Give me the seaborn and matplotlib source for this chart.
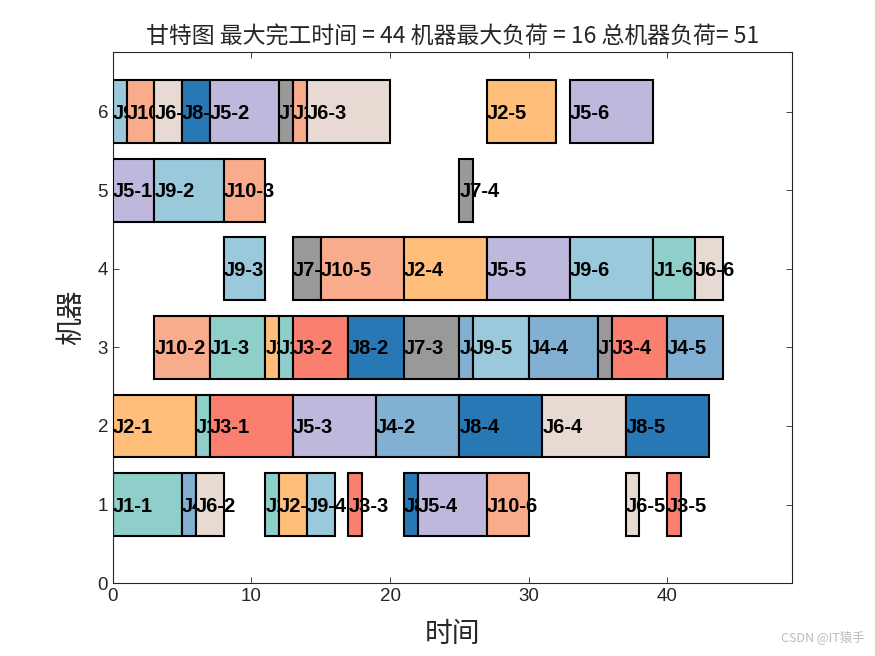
import matplotlib
matplotlib.use("Agg")
import matplotlib.pyplot as plt
import seaborn as sns
import pandas as pd

# ---- data ----
labels = ["J1-1","J4-1","J6-2","J1-4","J2-3","J9-4","J3-3","J8-3","J5-4","J10-6","J6-5","J3-5",
          "J2-1","J1-2","J3-1","J5-3","J4-2","J8-4","J6-4","J8-5",
          "J10-2","J1-3","J2-2","J1-5","J3-2","J8-2","J7-3","J4-3","J9-5","J4-4","J7-5","J3-4","J4-5",
          "J9-3","J7-2","J10-5","J2-4","J5-5","J9-6","J1-6","J6-6",
          "J5-1","J9-2","J10-3","J7-4",
          "J9-1","J10-1","J6-1","J8-1","J5-2","J7-1","J10-4","J6-3","J2-5","J5-6"]
machines = [1,1,1,1,1,1,1,1,1,1,1,1,
            2,2,2,2,2,2,2,2,
            3,3,3,3,3,3,3,3,3,3,3,3,3,
            4,4,4,4,4,4,4,4,
            5,5,5,5,
            6,6,6,6,6,6,6,6,6,6]
starts = [0,5,6,11,12,14,17,21,22,27,37,40,
          0,6,7,13,19,25,31,37,
          3,7,11,12,13,17,21,25,26,30,35,36,40,
          8,13,15,21,27,33,39,42,
          0,3,8,25,
          0,1,3,5,7,12,13,14,27,33]
ends = [5,6,8,12,14,16,18,22,27,30,38,41,
        6,7,13,19,25,31,37,43,
        7,11,12,13,17,21,25,26,30,35,36,40,44,
        11,15,21,27,33,39,42,44,
        3,8,11,26,
        1,3,5,7,12,13,14,20,32,39]
job_colors = {1:"#8ECFC9", 2:"#FFBE7A", 3:"#FA7F6F", 4:"#82B0D2", 5:"#BEB8DC",
              6:"#E7DAD2", 7:"#999999", 8:"#2878B5", 9:"#9AC9DB", 10:"#F8AC8C"}
title = "甘特图 最大完工时间 = 44 机器最大负荷 = 16 总机器负荷= 51"

df = pd.DataFrame({"label": labels, "machine": machines, "start": starts, "end": ends})
df["job"] = df["label"].str.extract(r"J(\d+)-")[0].astype(int)
df["dur"] = df["end"] - df["start"]
df = df.sort_values(["machine", "start"]).reset_index(drop=True)

sns.set_theme(style="white")
plt.rcParams["font.family"] = ["Liberation Sans", "Noto Sans CJK SC", "DejaVu Sans"]

fig = plt.figure(figsize=(8.75, 6.56), dpi=100)
ax = fig.add_axes([0.129, 0.111, 0.776, 0.810])

z = 2
for _, r in df.iterrows():
    ax.barh(r["machine"], r["dur"], left=r["start"], height=0.8,
            color=job_colors[r["job"]], edgecolor="black", linewidth=1.5, zorder=z)
    ax.text(r["start"], r["machine"] - 0.02, r["label"], ha="left", va="center",
            fontsize=14.5, fontweight="bold", color="black", zorder=z + 0.5)
    z += 1

ax.set_xlim(0, 49)
ax.set_ylim(0, 6.76)
ax.set_xticks([0, 10, 20, 30, 40])
ax.set_yticks([0, 1, 2, 3, 4, 5, 6])
ax.tick_params(direction="in", length=4, labelsize=13.5, colors="#262626",
               top=True, right=True, bottom=True, left=True, width=0.6)
for s in ax.spines.values():
    s.set_color("#262626")
    s.set_linewidth(0.8)
ax.set_title(title, fontsize=16.5, color="#262626",
             family=["Noto Sans CJK SC", "DejaVu Sans"], pad=6)
ax.set_xlabel("时间", fontsize=20, family=["Noto Sans CJK SC"], color="#262626", labelpad=10)
ax.set_ylabel("机器", fontsize=20, family=["Noto Sans CJK SC"], color="#262626", labelpad=8)
fig.text(0.988, 0.018, "CSDN @IT猿手", ha="right", va="bottom", fontsize=9,
         color="#bbbbbb", family=["Noto Sans CJK SC", "DejaVu Sans"])

fig.savefig("out.png", dpi=100)
